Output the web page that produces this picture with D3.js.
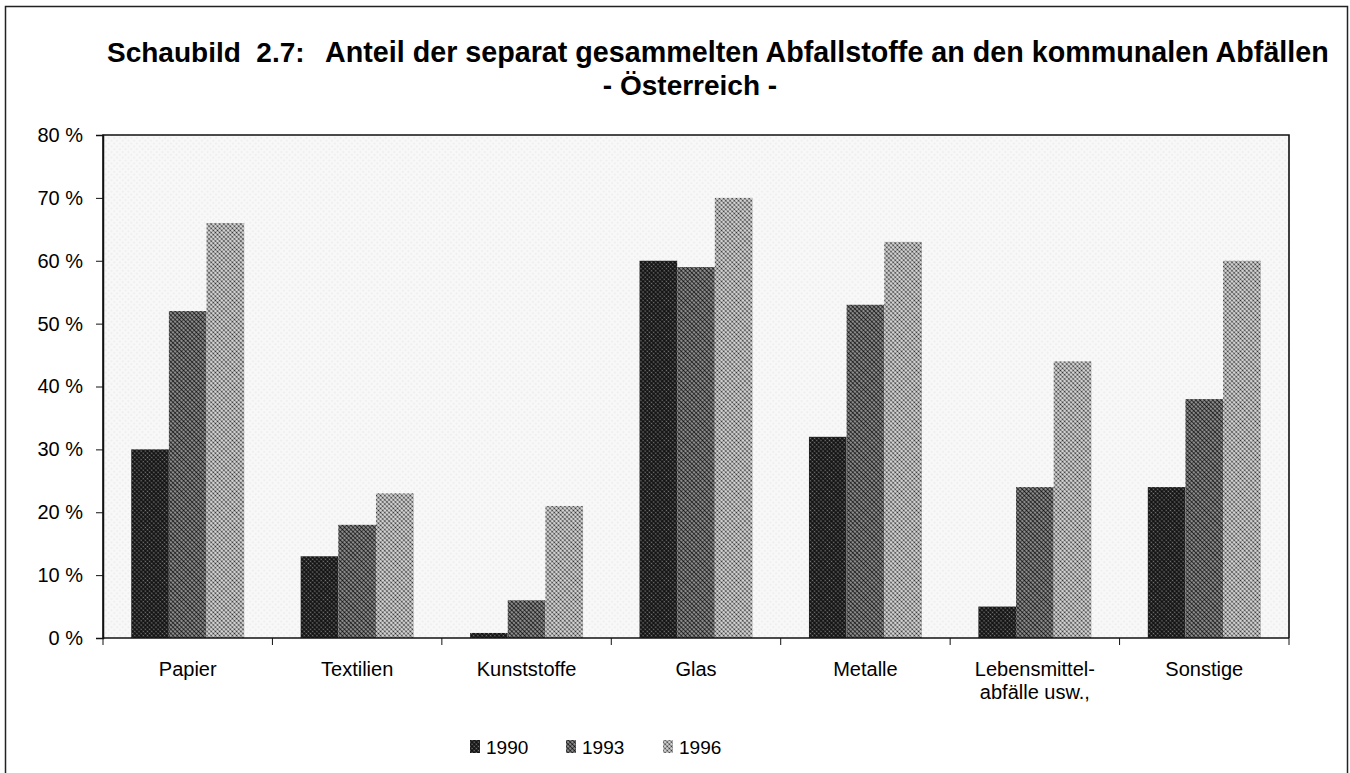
<!DOCTYPE html>
<html lang="de">
<head>
  <meta charset="utf-8">
  <title>Schaubild 2.7</title>
  <script src="https://d3js.org/d3.v7.min.js"></script>
  <style>
    body { margin: 0; background: #fff; }
    text { font-family: Arial, "Liberation Sans", Helvetica, sans-serif; fill: #000; }
  </style>
</head>
<body>
<div id="chart"></div>
<script>

// data
var categories = ["Papier", "Textilien", "Kunststoffe", "Glas", "Metalle", "Lebensmittel-\nabfälle usw.,", "Sonstige"];
var years = ["1990", "1993", "1996"];
var values1990 = [30, 13, 0.8, 60, 32, 5, 24];
var values1993 = [52, 18, 6, 59, 53, 24, 38];
var values1996 = [66, 23, 21, 70, 63, 44, 60];
var yTicks = [0, 10, 20, 30, 40, 50, 60, 70, 80];

var series = [values1990, values1993, values1996];

var W = 1350, H = 773;
var margin = {top: 135, right: 61, bottom: 135, left: 103},
    width = W - margin.left - margin.right,
    height = H - margin.top - margin.bottom;

var svg = d3.select("#chart")
  .append("svg")
    .attr("width", W)
    .attr("height", H);

// halftone-like fills
var defs = svg.append("defs");
function halftone(id, bg, dot, r, size) {
  var p = defs.append("pattern")
      .attr("id", id)
      .attr("patternUnits", "userSpaceOnUse")
      .attr("width", size)
      .attr("height", size)
      .attr("patternTransform", "rotate(45)");
  p.append("rect").attr("width", size).attr("height", size).attr("fill", bg);
  p.append("circle").attr("cx", size / 2).attr("cy", size / 2).attr("r", r).attr("fill", dot);
}
halftone("p1990", "#111", "#7a7a7a", 0.85, 3);
halftone("p1993", "#c8c8c8", "#111", 1.35, 3);
halftone("p1996", "#e6e6e6", "#2a2a2a", 1.1, 3);
halftone("pBack", "#f8f8f8", "#b5b5b5", 0.45, 4);

// outer frame
svg.append("path")
    .attr("d", "M5.5," + H + "V6.5H1347.5V" + H)
    .attr("fill", "none")
    .attr("stroke", "#222")
    .attr("stroke-width", 1.5);

// title
svg.append("text")
    .attr("x", 107)
    .attr("y", 62)
    .attr("xml:space", "preserve")
    .style("font-size", "28px")
    .style("font-weight", "bold")
    .text("Schaubild  2.7:");
svg.append("text")
    .attr("x", 325)
    .attr("y", 62)
    .style("font-size", "28.7px")
    .style("font-weight", "bold")
    .text("Anteil der separat gesammelten Abfallstoffe an den kommunalen Abfällen");
svg.append("text")
    .attr("x", 690)
    .attr("y", 95)
    .attr("text-anchor", "middle")
    .style("font-size", "28px")
    .style("font-weight", "bold")
    .text("- Österreich -");

var g = svg.append("g")
    .attr("transform", "translate(" + margin.left + "," + margin.top + ")");

var x0 = d3.scaleBand()
    .domain(categories)
    .range([0, width])
    .paddingInner(0)
    .paddingOuter(0);

// Excel style gap width 150 %: 3 bars share cat/(3+1.5)
var barW = x0.bandwidth() / 4.5;
var x1 = d3.scaleBand()
    .domain(years)
    .range([barW * 0.75, x0.bandwidth() - barW * 0.75]);

var y = d3.scaleLinear()
    .domain([0, 80])
    .range([height, 0]);

// plot background
g.append("rect")
    .attr("width", width)
    .attr("height", height)
    .attr("fill", "url(#pBack)");

// bars
var groups = g.selectAll(".grp")
  .data(categories)
  .enter().append("g")
    .attr("class", "grp")
    .attr("transform", function(d) { return "translate(" + x0(d) + ",0)"; });

groups.selectAll("rect")
  .data(function(d, i) { return years.map(function(yr, j) { return {year: yr, value: series[j][i]}; }); })
  .enter().append("rect")
    .attr("x", function(d) { return x1(d.year); })
    .attr("y", function(d) { return y(d.value); })
    .attr("width", x1.bandwidth())
    .attr("height", function(d) { return height - y(d.value); })
    .attr("fill", function(d) { return "url(#p" + d.year + ")"; });

// frame of plot area
g.append("path")
    .attr("d", "M0," + height + "V0H" + width + "V" + height)
    .attr("fill", "none")
    .attr("stroke", "#111")
    .attr("stroke-width", 1.6);

// y axis
var yAxis = g.append("g")
    .call(d3.axisLeft(y).tickValues(yTicks).tickSize(7).tickFormat(function(d) { return d + " %"; }));
yAxis.select(".domain").attr("stroke", "#111").attr("stroke-width", 1.5);
yAxis.selectAll(".tick line").attr("stroke", "#111");
yAxis.selectAll(".tick text")
    .attr("x", -20)
    .style("font-size", "20px")
    .style("font-family", "Arial, 'Liberation Sans', sans-serif");

// x axis: ticks at category borders
var xAxis = g.append("g")
    .attr("transform", "translate(0," + height + ")");
xAxis.append("line")
    .attr("x1", 0).attr("x2", width)
    .attr("stroke", "#111").attr("stroke-width", 1.6);
xAxis.selectAll(".sep")
  .data(d3.range(categories.length + 1))
  .enter().append("line")
    .attr("x1", function(i) { return i * x0.step(); })
    .attr("x2", function(i) { return i * x0.step(); })
    .attr("y1", 0).attr("y2", 7)
    .attr("stroke", "#111");

xAxis.selectAll(".lbl")
  .data(categories)
  .enter().append("text")
    .attr("class", "lbl")
    .attr("text-anchor", "middle")
    .attr("transform", function(d) { return "translate(" + (x0(d) + x0.bandwidth() / 2) + ",38)"; })
    .style("font-size", "20px")
    .each(function(d) {
      var lines = d.split("\n");
      var t = d3.select(this);
      lines.forEach(function(l, k) {
        t.append("tspan").attr("x", 0).attr("dy", k === 0 ? 0 : 23).text(l);
      });
    });

// legend
var legendX = [470, 566, 663];
var legend = svg.selectAll(".leg")
  .data(years)
  .enter().append("g")
    .attr("class", "leg")
    .attr("transform", function(d, i) { return "translate(" + legendX[i] + ",740)"; });
legend.append("rect")
    .attr("width", 10).attr("height", 13)
    .attr("fill", function(d) { return "url(#p" + d + ")"; });
legend.append("text")
    .attr("x", 16)
    .attr("y", 14)
    .style("font-size", "19px")
    .text(function(d) { return d; });

</script>
</body>
</html>
